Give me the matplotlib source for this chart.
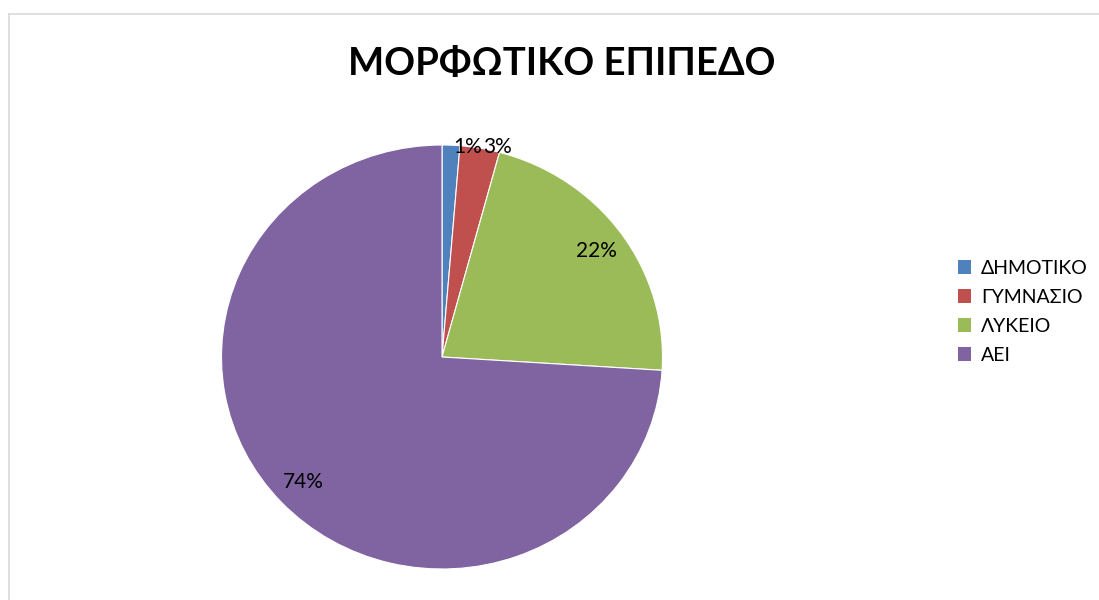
import matplotlib
matplotlib.use("Agg")
import matplotlib.pyplot as plt
from matplotlib.patches import Patch
from matplotlib.lines import Line2D

# Education level distribution
categories = ["ΔΗΜΟΤΙΚΟ", "ΓΥΜΝΑΣΙΟ", "ΛΥΚΕΙΟ", "ΑΕΙ"]
shares = [1.3, 2.9, 21.8, 74.0]
colors = ["#4F81BD", "#C0504D", "#9BBB59", "#8064A2"]
title = "ΜΟΡΦΩΤΙΚΟ ΕΠΙΠΕΔΟ"

plt.rcParams["font.family"] = ["Lato", "DejaVu Sans"]

W, H = 1099, 600
fig = plt.figure(figsize=(W / 100, H / 100), dpi=100)

# background layer for the frame and title
bg = fig.add_axes([0, 0, 1, 1])
bg.set_xlim(0, W)
bg.set_ylim(0, H)
bg.axis("off")
bg.add_line(Line2D([8.5, W], [H - 13.5, H - 13.5], color="#D9D9D9", lw=1.2))
bg.add_line(Line2D([8.5, 8.5], [0, H - 13.5], color="#D9D9D9", lw=1.2))
bg.text(561.5, H - 64, title, ha="center", va="center",
        fontsize=27.5, fontweight="bold", color="black")

# pie area (slightly wider than tall)
cx, cy, rx, ry = 442, 357, 220.5, 212
ax = fig.add_axes([(cx - rx) / W, (H - cy - ry) / H, 2 * rx / W, 2 * ry / H])
wedges, texts, autotexts = ax.pie(
    shares,
    colors=colors,
    startangle=90,
    counterclock=False,
    radius=1,
    autopct=lambda p: f"{p:.0f}%",
    pctdistance=0.86,
    wedgeprops=dict(edgecolor="white", linewidth=0.8),
    textprops=dict(fontsize=15, color="black"),
)
ax.set_aspect("auto")
ax.set_xlim(-1, 1)
ax.set_ylim(-1, 1)
ax.axis("off")

# small slices: labels sit side by side at the rim
small_pos = {0: (0.116, 0.99), 1: (0.252, 0.99)}
for i, (x, y) in small_pos.items():
    autotexts[i].set_position((x, y))

handles = [Patch(facecolor=c, edgecolor="none") for c in colors]
fig.legend(handles, categories, loc="center left",
           bbox_to_anchor=(948 / W, 1 - 312 / H),
           frameon=False, fontsize=14,
           handlelength=0.7, handleheight=0.7,
           handletextpad=0.5, labelspacing=0.62, borderpad=0)

fig.savefig("out.png", dpi=100, facecolor="white")
